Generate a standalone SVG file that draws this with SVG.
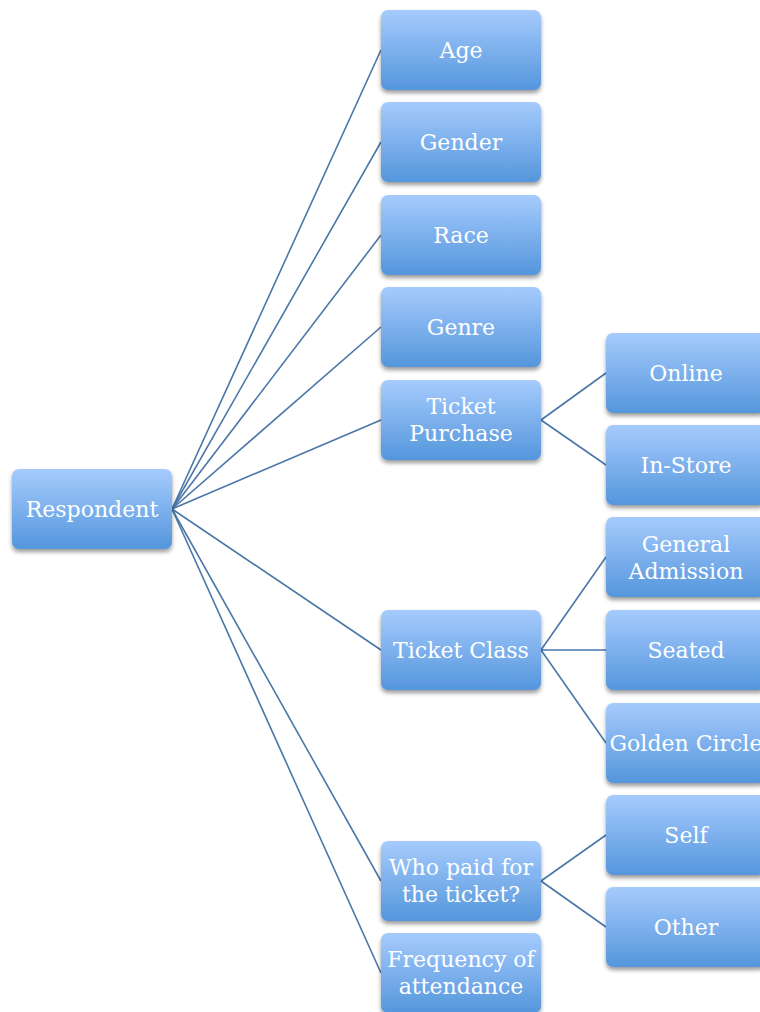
<svg xmlns="http://www.w3.org/2000/svg" width="760" height="1012" viewBox="0 0 760 1012">
<defs>
<linearGradient id="g" x1="0" y1="0" x2="0" y2="1">
<stop offset="0" stop-color="#a6cbfd"/>
<stop offset="1" stop-color="#5496dc"/>
</linearGradient>
<filter id="sh" x="-10%" y="-10%" width="120%" height="130%">
<feGaussianBlur in="SourceAlpha" stdDeviation="2.2"/>
<feOffset dx="0" dy="3" result="b"/>
<feComponentTransfer><feFuncA type="linear" slope="0.4"/></feComponentTransfer>
<feMerge><feMergeNode/><feMergeNode in="SourceGraphic"/></feMerge>
</filter>
</defs>
<style>
rect{fill:url(#g);filter:url(#sh)}
text{font-family:"DejaVu Serif","Liberation Serif",serif;font-size:22px;fill:#ffffff;text-anchor:middle}
.c line{stroke:#4a76a8;stroke-width:1.6}
</style>
<rect width="760" height="1012" fill="#ffffff" style="fill:#fff;filter:none"/>
<g class="c" id="connectors">
<line x1="172" y1="509" x2="381" y2="50"/>
<line x1="172" y1="509" x2="381" y2="142"/>
<line x1="172" y1="509" x2="381" y2="235"/>
<line x1="172" y1="509" x2="381" y2="327"/>
<line x1="172" y1="509" x2="381" y2="420"/>
<line x1="172" y1="509" x2="381" y2="650"/>
<line x1="172" y1="509" x2="381" y2="881"/>
<line x1="172" y1="509" x2="381" y2="973"/>
<line x1="541" y1="420" x2="606" y2="373"/>
<line x1="541" y1="420" x2="606" y2="465"/>
<line x1="541" y1="650" x2="606" y2="557"/>
<line x1="541" y1="650" x2="606" y2="650"/>
<line x1="541" y1="650" x2="606" y2="743"/>
<line x1="541" y1="881" x2="606" y2="835"/>
<line x1="541" y1="881" x2="606" y2="927"/>
</g>
<g id="respondent"><rect x="12" y="469" width="160" height="80" rx="7"/><text x="92" y="517">Respondent</text></g>
<g id="age"><rect x="381" y="10" width="160" height="80" rx="7"/><text x="461" y="58">Age</text></g>
<g id="gender"><rect x="381" y="102" width="160" height="80" rx="7"/><text x="461" y="150">Gender</text></g>
<g id="race"><rect x="381" y="195" width="160" height="80" rx="7"/><text x="461" y="243">Race</text></g>
<g id="genre"><rect x="381" y="287" width="160" height="80" rx="7"/><text x="461" y="335">Genre</text></g>
<g id="ticket-purchase"><rect x="381" y="380" width="160" height="80" rx="7"/><text x="461" y="414">Ticket</text><text x="461" y="441">Purchase</text></g>
<g id="ticket-class"><rect x="381" y="610" width="160" height="80" rx="7"/><text x="461" y="658">Ticket Class</text></g>
<g id="who-paid"><rect x="381" y="841" width="160" height="80" rx="7"/><text x="461" y="875">Who paid for</text><text x="461" y="902">the ticket?</text></g>
<g id="frequency"><rect x="381" y="933" width="160" height="80" rx="7"/><text x="461" y="967">Frequency of</text><text x="461" y="994">attendance</text></g>
<g id="online"><rect x="606" y="333" width="160" height="80" rx="7"/><text x="686" y="381">Online</text></g>
<g id="in-store"><rect x="606" y="425" width="160" height="80" rx="7"/><text x="686" y="473">In-Store</text></g>
<g id="general-admission"><rect x="606" y="517" width="160" height="80" rx="7"/><text x="686" y="552">General</text><text x="686" y="579">Admission</text></g>
<g id="seated"><rect x="606" y="610" width="160" height="80" rx="7"/><text x="686" y="658">Seated</text></g>
<g id="golden-circle"><rect x="606" y="703" width="160" height="80" rx="7"/><text x="686" y="751">Golden Circle</text></g>
<g id="self"><rect x="606" y="795" width="160" height="80" rx="7"/><text x="686" y="843">Self</text></g>
<g id="other"><rect x="606" y="887" width="160" height="80" rx="7"/><text x="686" y="935">Other</text></g>
</svg>
